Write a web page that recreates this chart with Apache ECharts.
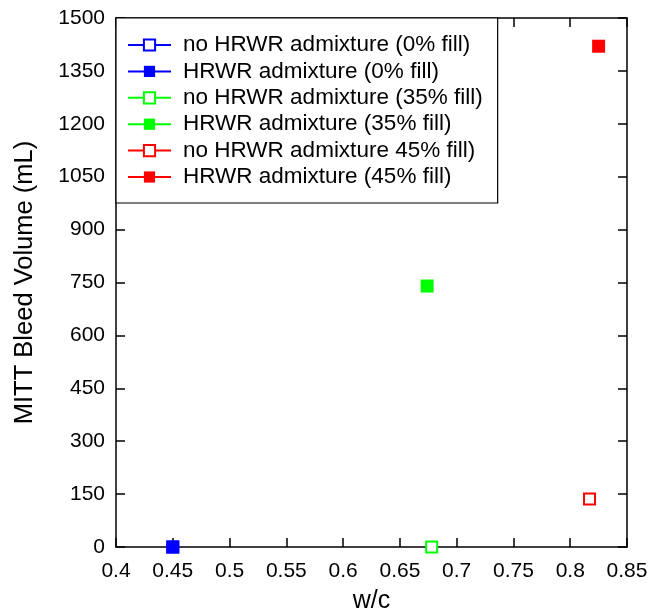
<!DOCTYPE html>
<html><head><meta charset="utf-8">
<script src="https://cdn.jsdelivr.net/npm/echarts@6/dist/echarts.min.js"></script>
<style>html,body{margin:0;padding:0;background:#fff}#c{width:652px;height:616px}</style>
</head><body><div id="c"></div>
<script>
const seriesNames = ['no HRWR admixture (0% fill)','HRWR admixture (0% fill)','no HRWR admixture (35% fill)','HRWR admixture (35% fill)','no HRWR admixture 45% fill)','HRWR admixture (45% fill)'];
const seriesColors = ['#0000ff','#0000ff','#00ff00','#00ff00','#ff0000','#ff0000'];
const seriesFilled = [false,true,false,true,false,true];
const wcValues = [0.45, 0.45, 0.678, 0.674, 0.817, 0.825];
const bleedValues = [0, 0, 0, 740, 136, 1420];
const xTicks = [0.4,0.45,0.5,0.55,0.6,0.65,0.7,0.75,0.8,0.85];
const yTicks = [0,150,300,450,600,750,900,1050,1200,1350,1500];

const font = 'Liberation Sans, Arial, sans-serif';
const axisCommon = {
  axisLine:{show:true,onZero:false,lineStyle:{color:'#000',width:1.5}},
  axisTick:{show:true,inside:true,length:9,lineStyle:{color:'#000',width:1.5}},
  splitLine:{show:false}
};
const series = seriesNames.map((n,i)=>({
  name:n, type:'line',
  data:[[wcValues[i], bleedValues[i]]],
  symbol: seriesFilled[i] ? 'rect' : 'emptyRect',
  symbolSize: seriesFilled[i] ? 13 : 11,
  showSymbol:true,
  itemStyle:{color:seriesColors[i], borderWidth: seriesFilled[i]?0:1.5},
  lineStyle:{color:seriesColors[i], width:1.5},
  z: seriesFilled[i] ? 3 : 2
}));
const chart = echarts.init(document.getElementById('c'));
chart.setOption({
  animation:false,
  backgroundColor:'#fff',
  grid:{left:116,right:25,top:18,bottom:69,containLabel:false,outerBoundsMode:'none'},
  legend:{
    data:seriesNames,
    orient:'vertical',
    left:116, top:18,
    itemWidth:43, itemHeight:14, itemGap:3.4,
    padding:[15.5,15,14.5,11],
    borderColor:'#000', borderWidth:1.2,
    backgroundColor:'#fff',
    textStyle:{fontFamily:font,fontSize:22.5,color:'#000',padding:[0,0,0,7]},
    selectedMode:false
  },
  xAxis:[
    Object.assign({type:'value',min:0.4,max:0.85,interval:0.05,position:'bottom',
      name:'w/c',nameLocation:'middle',nameGap:42,
      nameTextStyle:{fontFamily:font,fontSize:25,color:'#000'},
      axisLabel:{fontFamily:font,fontSize:21,color:'#000',margin:14,
        formatter:v=>String(parseFloat(v.toFixed(2)))}}, axisCommon),
    Object.assign({type:'value',min:0.4,max:0.85,interval:0.05,position:'top',
      axisLabel:{show:false}}, axisCommon)
  ],
  yAxis:[
    Object.assign({type:'value',min:0,max:1500,interval:150,position:'left',
      name:'MITT Bleed Volume (mL)',nameLocation:'middle',nameGap:78,
      nameTextStyle:{fontFamily:font,fontSize:25.5,color:'#000'},
      axisLabel:{fontFamily:font,fontSize:21,color:'#000',margin:11,
        formatter:v=>String(v)}}, axisCommon),
    Object.assign({type:'value',min:0,max:1500,interval:150,position:'right',
      axisLabel:{show:false}}, axisCommon)
  ],
  series:series
});
</script></body></html>
